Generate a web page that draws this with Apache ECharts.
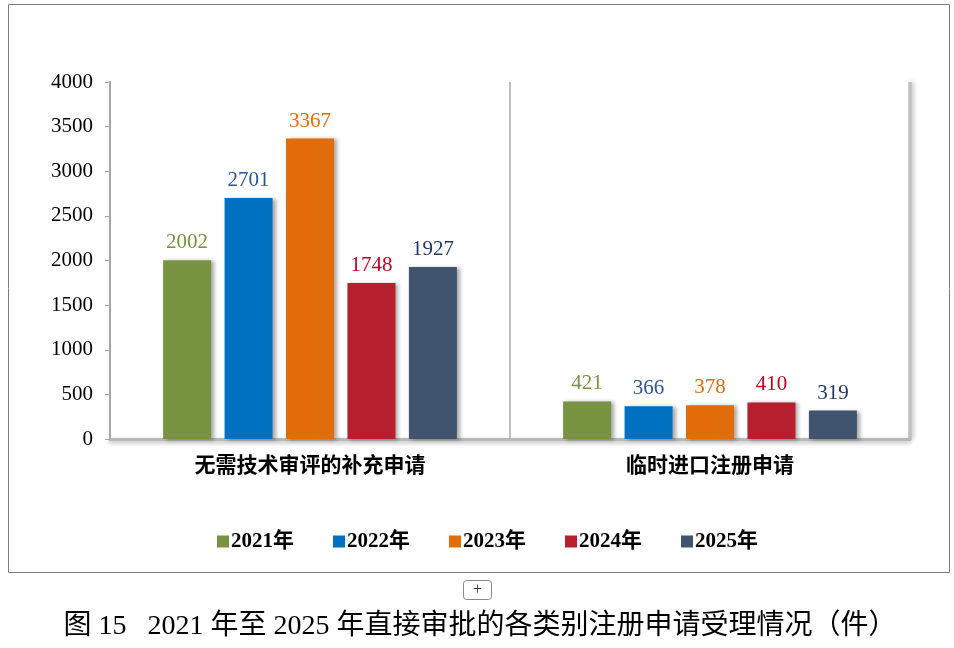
<!DOCTYPE html>
<html>
<head>
<meta charset="utf-8">
<script src="https://cdn.jsdelivr.net/npm/echarts@6/dist/echarts.min.js"></script>
<style>
  html, body { margin: 0; padding: 0; background: #fff; }
  #main { width: 954px; height: 648px; }
</style>
</head>
<body>
<div id="main"></div>
<script>
// 数据
const categories = ['无需技术审评的补充申请', '临时进口注册申请'];
const years = ['2021年', '2022年', '2023年', '2024年', '2025年'];
const values2021 = [2002, 421];
const values2022 = [2701, 366];
const values2023 = [3367, 378];
const values2024 = [1748, 410];
const values2025 = [1927, 319];
const yTicks = [0, 500, 1000, 1500, 2000, 2500, 3000, 3500, 4000];

const seriesValues = [values2021, values2022, values2023, values2024, values2025];
const barColors = ['#789440', '#0070c0', '#e36c0a', '#b71f2e', '#41546f'];
const labelColors = ['#76923c', '#2f5597', '#e36c0a', '#c00020', '#1f3864'];

const serif = '"Liberation Serif", "Noto Sans CJK SC", serif';

const chart = echarts.init(document.getElementById('main'));

const series = years.map((name, i) => ({
  name: name,
  type: 'bar',
  data: seriesValues[i],
  barWidth: 48,
  barGap: '28%',
  itemStyle: {
    color: barColors[i],
    shadowBlur: 4,
    shadowOffsetX: 3,
    shadowOffsetY: 1,
    shadowColor: 'rgba(0,0,0,0.35)'
  },
  label: {
    show: true,
    position: 'top',
    distance: 7,
    color: labelColors[i],
    fontFamily: serif,
    fontSize: 21
  }
}));

chart.setOption({
  animation: false,
  grid: { left: 110, right: 44, top: 82, bottom: 209 },
  legend: {
    data: years,
    bottom: 91,
    left: 212,
    itemWidth: 12,
    itemHeight: 12,
    itemGap: 39,
    icon: 'rect',
    textStyle: { fontFamily: serif, fontSize: 21, fontWeight: 'bold', color: '#000', padding: [0, 0, 0, -3] }
  },
  xAxis: {
    type: 'category',
    data: categories,
    axisLine: {
      lineStyle: { color: '#b8b8b8', width: 3, shadowBlur: 4, shadowOffsetY: 2, shadowColor: 'rgba(0,0,0,0.3)' }
    },
    axisTick: { show: false },
    axisLabel: { color: '#000', fontFamily: serif, fontSize: 21, fontWeight: 'bold', margin: 17 },
    splitLine: { show: true, lineStyle: { color: '#c0c0c0', width: 2 } }
  },
  yAxis: {
    type: 'value',
    min: yTicks[0],
    max: yTicks[yTicks.length - 1],
    interval: 500,
    axisLine: { show: true, lineStyle: { color: '#a6a6a6', width: 2 } },
    axisTick: { show: true, length: 5, lineStyle: { color: '#a6a6a6' } },
    axisLabel: { color: '#000', fontFamily: serif, fontSize: 21, margin: 17, formatter: v => String(v) },
    splitLine: { show: false }
  },
  graphic: [
    { type: 'rect', shape: { x: 8.5, y: 4.5, width: 941, height: 568 }, style: { fill: 'none', stroke: '#7f7f7f', lineWidth: 1 }, z: -1 },
    { type: 'line', shape: { x1: 910, y1: 82, x2: 910, y2: 439 }, style: { stroke: '#b0b0b0', lineWidth: 3, shadowBlur: 4, shadowOffsetX: 2, shadowColor: 'rgba(0,0,0,0.3)' } },
    { type: 'rect', shape: { x: 463.5, y: 580.5, width: 28, height: 19, r: 3 }, style: { fill: '#fff', stroke: '#888', lineWidth: 1 } },
    { type: 'text', x: 477.5, y: 590, style: { text: '+', fontSize: 16, fill: '#333', align: 'center', verticalAlign: 'middle', fontFamily: serif } },
    { type: 'text', x: 480, y: 627, style: { text: '图 15   2021 年至 2025 年直接审批的各类别注册申请受理情况（件）', fontSize: 28, fill: '#000', align: 'center', verticalAlign: 'middle', fontFamily: serif } }
  ],
  series: series
});
</script>
</body>
</html>
